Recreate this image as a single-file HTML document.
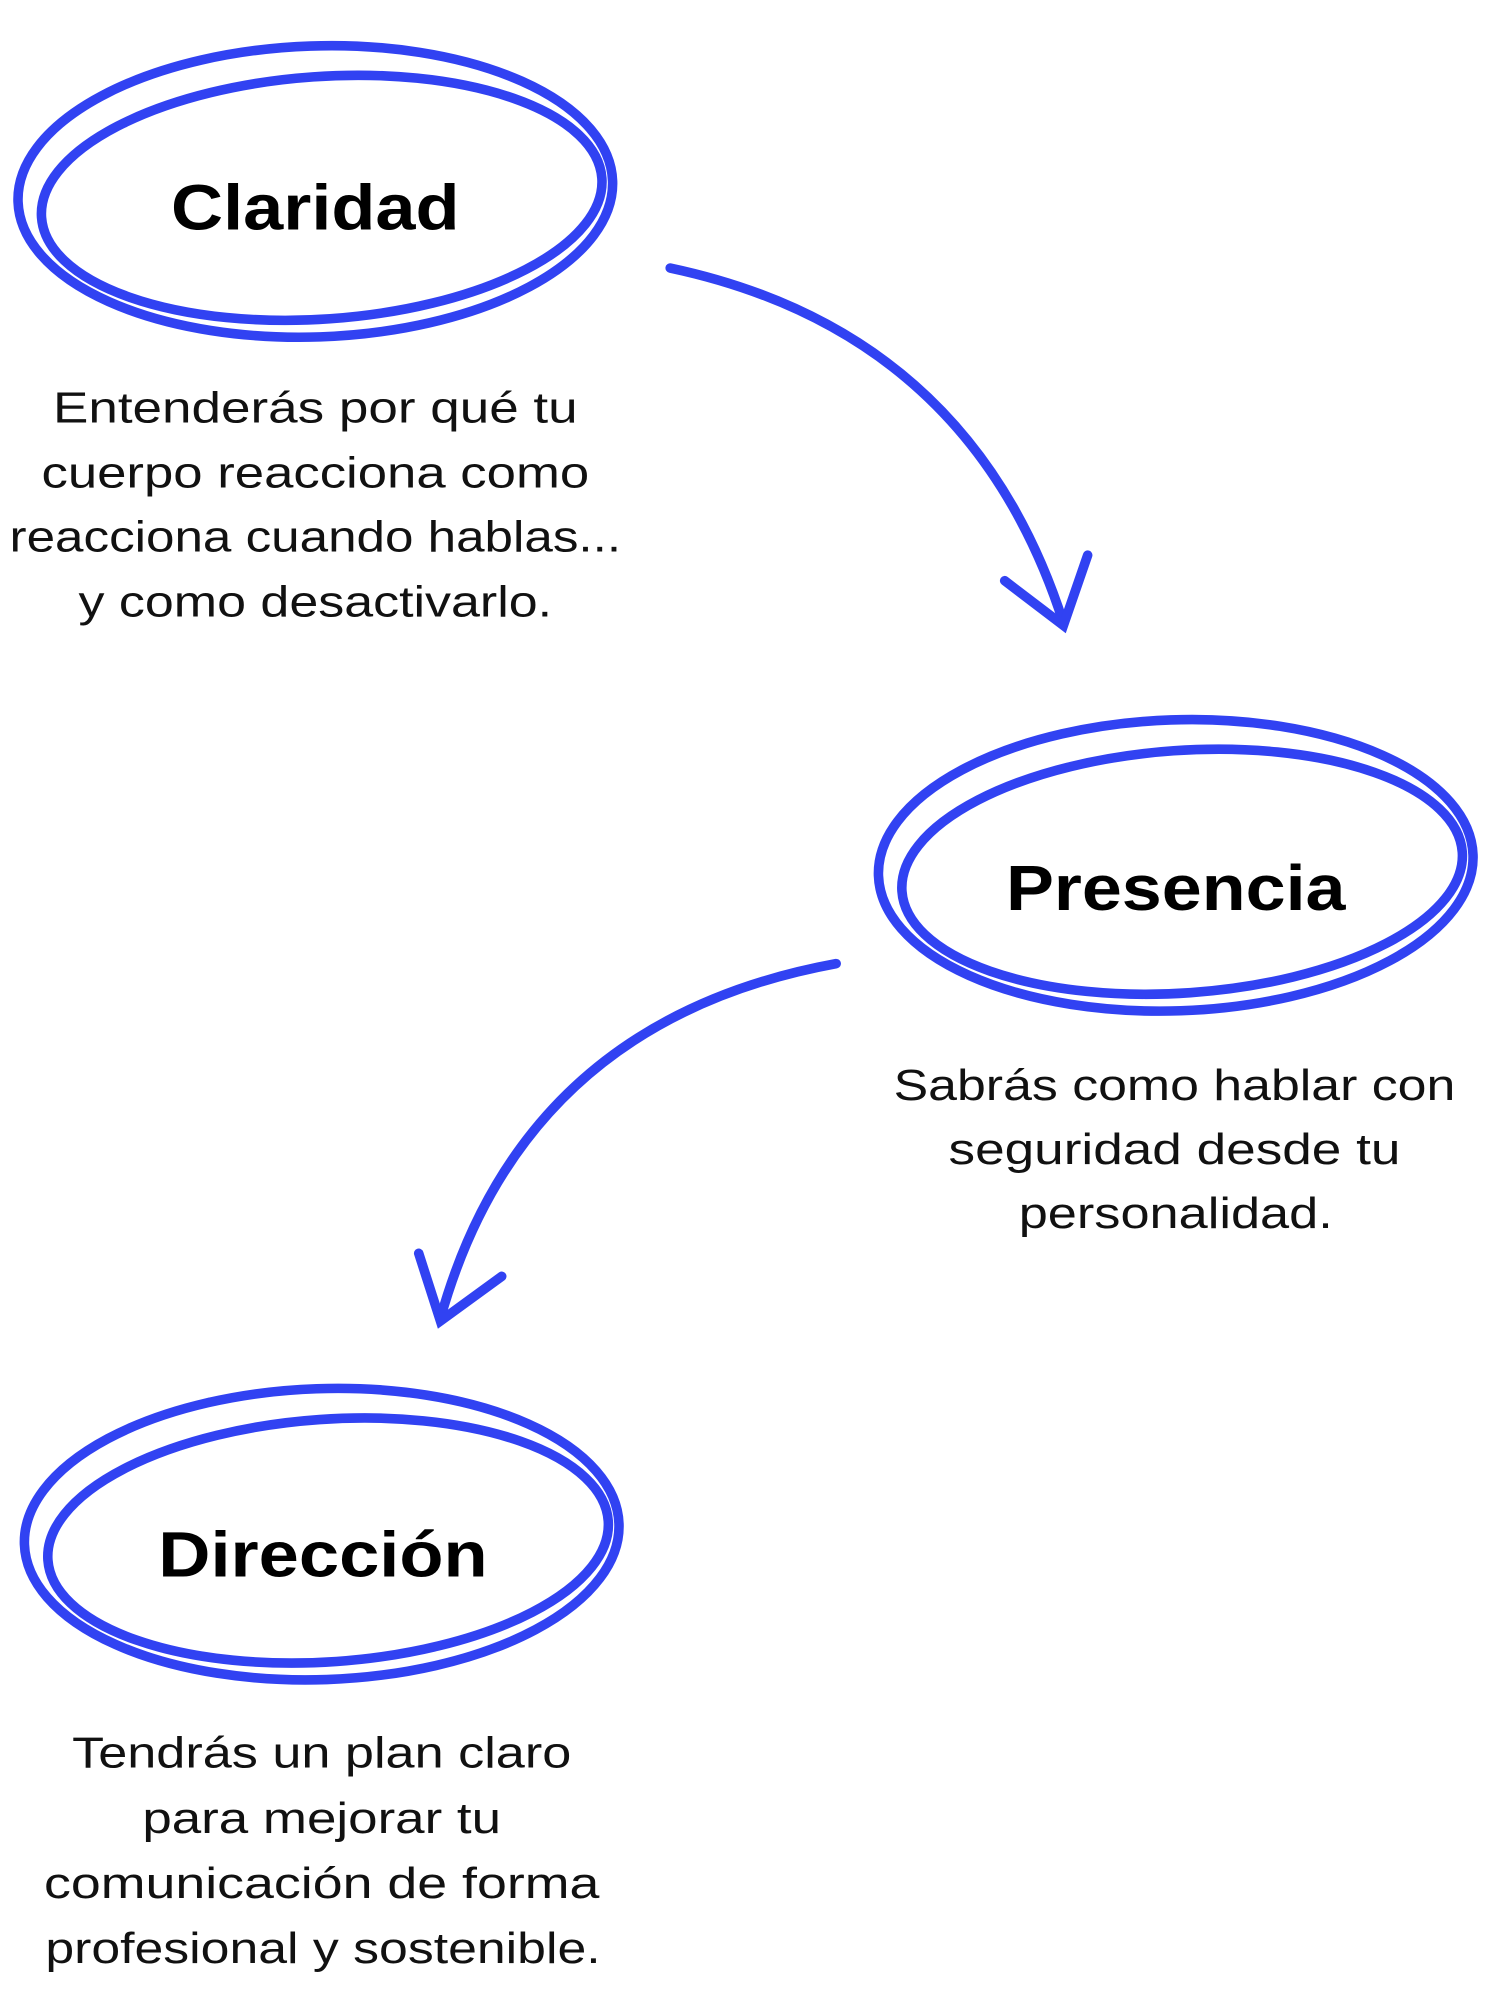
<!DOCTYPE html>
<html><head><meta charset="utf-8"><style>
html,body{margin:0;padding:0;background:#fff;width:1500px;height:2000px;overflow:hidden}
svg{display:block}
.t{font-family:"Liberation Sans",sans-serif;font-weight:bold;font-size:50px;fill:#000;text-anchor:middle}
.b{font-family:"Liberation Sans",sans-serif;font-size:34px;fill:#111;text-anchor:middle}
.e{fill:none;stroke:#3142f2;stroke-width:7.5;stroke-linecap:round}
</style></head><body>
<svg width="1500" height="2000" viewBox="0 0 1175 1567" preserveAspectRatio="none">
<g>
<ellipse class="e" cx="247" cy="150" rx="233" ry="114" transform="rotate(-2 247 150)"/>
<ellipse class="e" cx="252" cy="155" rx="220" ry="95" transform="rotate(-4 252 155)"/>
<text class="t" x="247" y="180" textLength="226" lengthAdjust="spacingAndGlyphs">Claridad</text>
<text class="b" x="247" y="331" textLength="411" lengthAdjust="spacingAndGlyphs">Entenderás por qué tu</text>
<text class="b" x="247" y="382" textLength="429" lengthAdjust="spacingAndGlyphs">cuerpo reacciona como</text>
<text class="b" x="247" y="432" textLength="479" lengthAdjust="spacingAndGlyphs">reacciona cuando hablas...</text>
<text class="b" x="247" y="483" textLength="371" lengthAdjust="spacingAndGlyphs">y como desactivarlo.</text>
</g>
<path class="e" d="M525 210 Q760 260 833 488" stroke-width="8"/>
<path class="e" d="M787 455 L833 490 L852 435" stroke-width="8"/>
<g>
<ellipse class="e" cx="921" cy="678" rx="233" ry="114" transform="rotate(-2 921 678)"/>
<ellipse class="e" cx="926" cy="683" rx="220" ry="95" transform="rotate(-4 926 683)"/>
<text class="t" x="921" y="713" textLength="266" lengthAdjust="spacingAndGlyphs">Presencia</text>
<text class="b" x="920" y="862" textLength="440" lengthAdjust="spacingAndGlyphs">Sabrás como hablar con</text>
<text class="b" x="920" y="912" textLength="354" lengthAdjust="spacingAndGlyphs">seguridad desde tu</text>
<text class="b" x="921" y="962" textLength="246" lengthAdjust="spacingAndGlyphs">personalidad.</text>
</g>
<path class="e" d="M655 755 Q410 800 345 1033" stroke-width="8"/>
<path class="e" d="M328 982 L345 1035 L393 1000" stroke-width="8"/>
<g>
<ellipse class="e" cx="252" cy="1202" rx="233" ry="114" transform="rotate(-2 252 1202)"/>
<ellipse class="e" cx="257" cy="1207" rx="220" ry="95" transform="rotate(-4 257 1207)"/>
<text class="t" x="253" y="1235" textLength="258" lengthAdjust="spacingAndGlyphs">Dirección</text>
<text class="b" x="252" y="1385" textLength="391" lengthAdjust="spacingAndGlyphs">Tendrás un plan claro</text>
<text class="b" x="252" y="1436" textLength="281" lengthAdjust="spacingAndGlyphs">para mejorar tu</text>
<text class="b" x="252" y="1487" textLength="435" lengthAdjust="spacingAndGlyphs">comunicación de forma</text>
<text class="b" x="253" y="1538" textLength="435" lengthAdjust="spacingAndGlyphs">profesional y sostenible.</text>
</g>
</svg>
</body></html>
